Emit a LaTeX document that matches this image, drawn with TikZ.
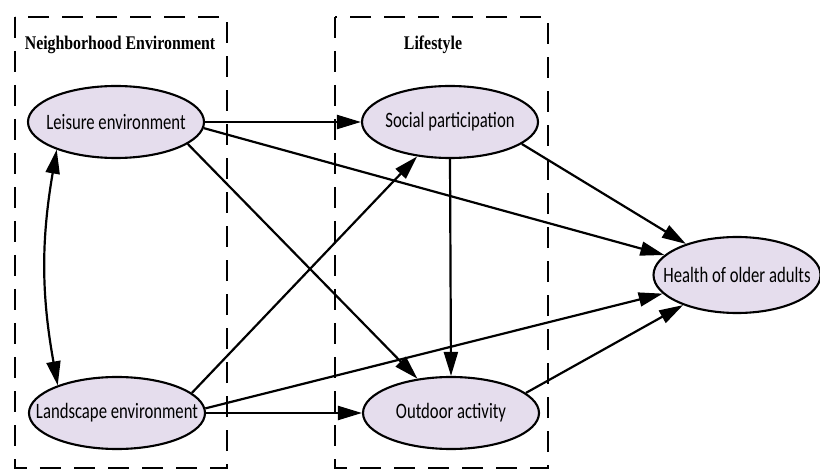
\documentclass[tikz,border=0pt]{standalone}
\usepackage{fontspec}
\newfontfamily\ellfont[FakeStretch=0.76]{Carlito}
\newfontfamily\headfont[FakeStretch=0.82]{Liberation Serif}
\usetikzlibrary{arrows.meta, shapes.geometric, positioning}

\definecolor{ellfill}{RGB}{229,221,237}
% keep the label from widening the ellipse
\newcommand{\flab}[1]{\makebox[0pt]{#1}}

\begin{document}
\begin{tikzpicture}[
    factor/.style={
        ellipse, draw, line width=1.2pt, fill=ellfill,
        minimum width=3.52cm, minimum height=1.44cm, inner sep=0pt,
        font=\ellfont\fontsize{12.5}{14}\selectfont
    },
    group/.style={
        draw, line width=1.3pt, dash pattern=on 4.2mm off 2.6mm
    },
    head/.style={font=\headfont\bfseries\fontsize{11}{13}\selectfont},
    >={Triangle[length=4.8mm, width=2.8mm]}, line width=1.25pt
]
\useasboundingbox (0,0) rectangle (16.4,-9.42);

% dashed groups
\draw[group] (0.3,-0.34) rectangle (4.54,-9.36);
\draw[group] (6.7,-0.34) rectangle (10.96,-9.36);
\node[head] (envlabel) at (2.4,-0.9) {Neighborhood Environment};
\node[head] (lifelabel) at (8.66,-0.9) {Lifestyle};

% factors
\node[factor] (leisure) at (2.32,-2.44) {\flab{Leisure environment}};
\node[factor] (landscape) at (2.34,-8.26) {\flab{Landscape environment}};
\node[factor] (social) at (9.0,-2.44) {\flab{Social participation}};
\node[factor] (outdoor) at (9.02,-8.26) {\flab{Outdoor activity}};
\node[factor, minimum width=3.34cm, minimum height=1.52cm] (health) at (14.74,-5.5) {\flab{Health of older adults}};

% paths
\draw[->] (leisure) -- (social);
\draw[->] (leisure.-4) -- (health);
\draw[->] (leisure.-17) -- (outdoor);
\draw[->] (landscape.15) -- (social);
\draw[->] (landscape.3) -- (health);
\draw[->] (landscape) -- (outdoor);
\draw[->] (social.south) -- (outdoor.north);
\draw[->] (social.-17) -- (health);
\draw[->] (outdoor.15) -- (health);
% correlation between the two environments
\draw[<->] (leisure.205) to[bend right=10] (landscape.155);

\end{tikzpicture}
\end{document}
